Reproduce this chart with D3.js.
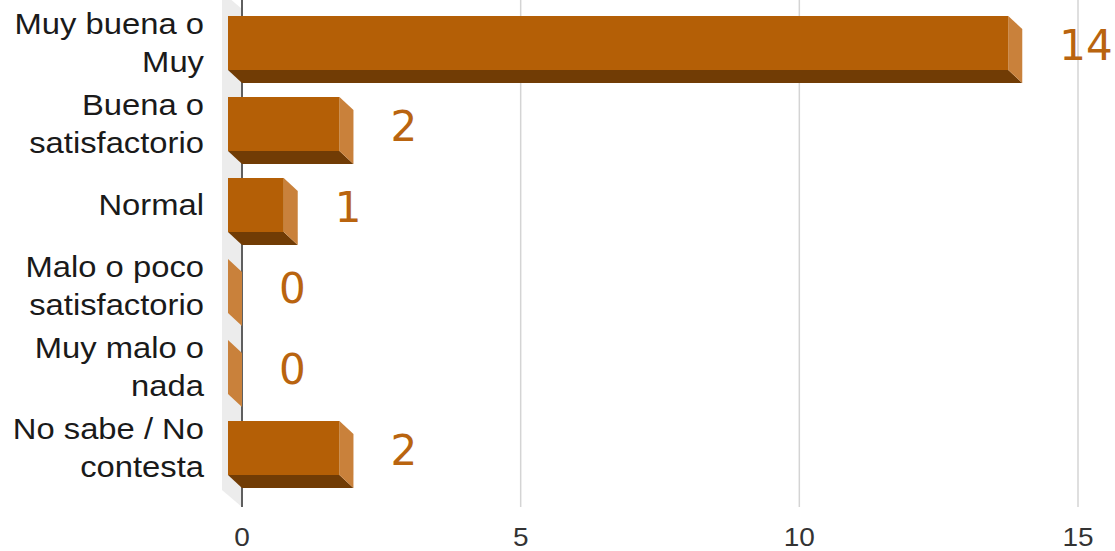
<!DOCTYPE html>
<html>
<head>
<meta charset="utf-8">
<script src="https://cdn.jsdelivr.net/npm/d3@7"></script>
<style>
  html, body { margin: 0; padding: 0; background: #fff; }
  svg { display: block; }
</style>
</head>
<body>
<svg id="chart" width="1115" height="551"></svg>
<script>
const categories = [
  ["Muy buena o", "Muy"],
  ["Buena o", "satisfactorio"],
  ["Normal"],
  ["Malo o poco", "satisfactorio"],
  ["Muy malo o", "nada"],
  ["No sabe / No", "contesta"]
];
const values = [14, 2, 1, 0, 0, 2];
const ticks = [0, 5, 10, 15];

const svg = d3.select("#chart");
const dx = 14, dy = 13;      // 3D depth offset
const gridTop = 0, gridBottom = 507;

const x = d3.scaleLinear().domain([0, 15]).range([242, 1078]);
const keys = categories.map((c, i) => i);
const y = d3.scaleBand().domain(keys).range([-11, 502]).paddingInner(1/3).paddingOuter(1/3);

// side wall
svg.append("polygon")
  .attr("points", [[222, -8], [242, 9], [242, gridBottom], [222, gridBottom - 17]].map(p => p.join(",")).join(" "))
  .attr("fill", "#ececec");

// gridlines
svg.append("g").selectAll("line").data(ticks.filter(t => t > 0)).join("line")
  .attr("x1", d => x(d)).attr("x2", d => x(d))
  .attr("y1", gridTop).attr("y2", gridBottom)
  .attr("stroke", "#d4d4d4").attr("stroke-width", 1.5);

// axis line at zero
svg.append("line")
  .attr("x1", x(0)).attr("x2", x(0)).attr("y1", gridTop).attr("y2", gridBottom)
  .attr("stroke", "#5f5f5f").attr("stroke-width", 2);

// tick labels
svg.append("g").selectAll("text").data(ticks).join("text")
  .attr("transform", d => `translate(${x(d)},546) scale(1.12,1)`)
  .attr("text-anchor", "middle")
  .attr("font-family", "Liberation Sans, Arial, sans-serif")
  .attr("font-size", 25)
  .attr("fill", "#333333")
  .text(d => d);

// bars
const front = "#b45f06", bottom = "#713c05", side = "#c9813b";
const bars = svg.append("g").selectAll("g").data(values).join("g");
bars.each(function(v, i) {
  const g = d3.select(this);
  const x0 = x(0) - dx, x1 = x(v) - dx;
  const y0 = y(i), y1 = y(i) + y.bandwidth();
  if (v > 0) {
    g.append("polygon")
      .attr("points", [[x0, y1], [x1, y1], [x1 + dx, y1 + dy], [x0 + dx, y1 + dy]].map(p => p.join(",")).join(" "))
      .attr("fill", bottom);
  }
  g.append("polygon")
    .attr("points", [[x1, y0], [x1 + dx, y0 + dy], [x1 + dx, y1 + dy], [x1, y1]].map(p => p.join(",")).join(" "))
    .attr("fill", side);
  if (v > 0) {
    g.append("rect")
      .attr("x", x0).attr("y", y0)
      .attr("width", x1 - x0).attr("height", y1 - y0)
      .attr("fill", front);
  }
});

// value labels
svg.append("g").selectAll("text").data(values).join("text")
  .attr("x", d => x(d) + 37)
  .attr("y", (d, i) => y(i) + y.bandwidth() / 2 + 17)
  .attr("font-family", "DejaVu Sans, Verdana, sans-serif")
  .attr("font-size", 42)
  .attr("fill", "#b9640f")
  .text(d => d);

// category labels
const lineH = 38;
const cat = svg.append("g").selectAll("g").data(categories).join("g")
  .attr("transform", (d, i) => `translate(204,${y(i) + y.bandwidth() / 2}) scale(1.13,1)`);
cat.each(function(lines) {
  const g = d3.select(this);
  lines.forEach((ln, j) => {
    g.append("text")
      .attr("x", 0)
      .attr("y", (j - (lines.length - 1) / 2) * lineH + 10)
      .attr("text-anchor", "end")
      .attr("font-family", "Liberation Sans, Arial, sans-serif")
      .attr("font-size", 29)
      .attr("fill", "#1a1a1a")
      .text(ln);
  });
});
</script>
</body>
</html>
